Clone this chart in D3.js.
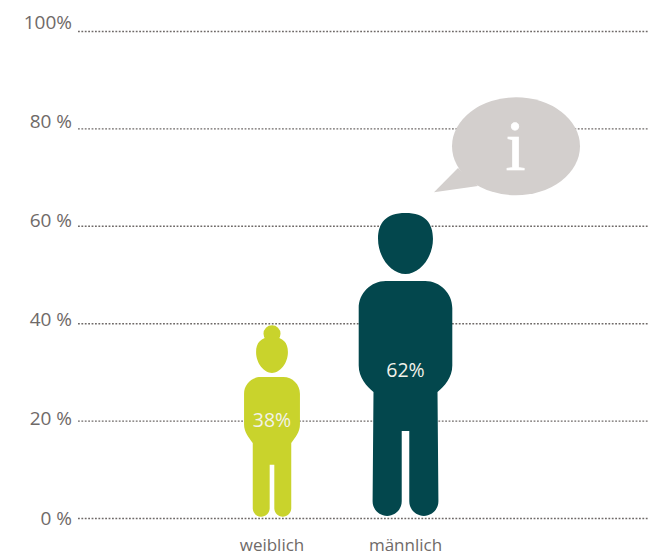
<!DOCTYPE html>
<meta charset="utf-8">
<style>
body { margin: 0; background: #fff; }
text { font-family: "Open Sans", sans-serif; }
.axis path { display: none; }
.axis line { stroke: #6f6a68; stroke-width: 1.4px; stroke-dasharray: 1.8 1.6; }
.axis text { font-size: 19px; fill: #6f6a68; }
.cat { font-size: 17px; fill: #6f6a68; text-anchor: middle; }
.val { font-size: 19.5px; fill: #f2f2ea; text-anchor: middle; }
</style>
<svg width="648" height="553"></svg>
<script src="https://d3js.org/d3.v7.min.js"></script>
<script>
var categories = ["weiblich", "männlich"];
var shares = [38, 62];
var colors = ["#c9d32c", "#03474d"];
var tickValues = [0, 20, 40, 60, 80, 100];
var tickLabels = ["0 %", "20 %", "40 %", "60 %", "80 %", "100%"];

var svg = d3.select("svg");

var y = d3.scaleLinear().domain([0, 100]).range([518, 31]);
var x = d3.scalePoint().domain(categories).range([272, 405.5]);
// the labels are spaced a bit wider than the grid lines in the original
var labelY = d3.scaleLinear().domain([0, 100]).range([524, 28]);

// grid lines + labels
var axis = svg.append("g")
    .attr("class", "axis")
    .attr("transform", "translate(78,0)")
    .call(d3.axisLeft(y)
      .tickValues(tickValues)
      .tickSize(-570)
      .tickFormat(function(d, i) { return tickLabels[i]; }));

axis.selectAll("text")
    .attr("x", -6)
    .attr("dy", 0)
    .attr("y", function(d) { return labelY(d) - y(d); })
    .attr("text-anchor", "end");

// speech bubble
var bubble = svg.append("g");
bubble.append("ellipse")
    .attr("cx", 516).attr("cy", 146.3)
    .attr("rx", 64).attr("ry", 49)
    .attr("fill", "#d3cfcd");
bubble.append("path")
    .attr("d", "M458,168L434,192.3L478,186Z")
    .attr("fill", "#d3cfcd");
bubble.append("text")
    .attr("x", 515.5).attr("y", 170)
    .attr("text-anchor", "middle")
    .style("font-family", "'Liberation Serif', serif")
    .style("font-size", "72px")
    .attr("fill", "#fff")
    .attr("stroke", "#fff")
    .attr("stroke-width", 0.7)
    .text("i");

// silhouette, sizes are fractions of the figure height (value on the y scale)
function figure(cx, k, bun) {
  var base = y(0);
  var X = function(u) { return cx + u * k; };
  var Y = function(f) { return base - f * k; };
  var p = d3.path();

  // head
  var top = bun ? 0.978 : 1.01, bot = bun ? 0.784 : 0.808, hw = bun ? 0.086 : 0.091;
  var V = function(v) { return Y(top - v * (top - bot)); };
  var U = function(u) { return X(u * hw); };
  p.moveTo(U(0), V(0));
  p.bezierCurveTo(U(0.72), V(0), U(1), V(0.17), U(1), V(0.42));
  p.bezierCurveTo(U(1), V(0.74), U(0.5), V(1), U(0), V(1));
  p.bezierCurveTo(U(-0.5), V(1), U(-1), V(0.74), U(-1), V(0.42));
  p.bezierCurveTo(U(-1), V(0.17), U(-0.72), V(0), U(0), V(0));
  p.closePath();

  // bun on top of the head
  if (bun) {
    p.moveTo(X(0.046), Y(0.995));
    p.arc(X(0), Y(0.995), 0.046 * k, 0, 2 * Math.PI);
    p.closePath();
  }

  // body and legs
  var bt = bun ? 0.762 : 0.785, bw = bun ? 0.151 : 0.155;
  var legTop = bun ? 0.405 : 0.417, legW = bun ? 0.104 : 0.106, footW = bun ? 0.104 : 0.109;
  var gap = 0.0125, gapTop = 0.288, footBot = 0.007;
  var footMid = (footW + gap) / 2, footR = (footW - gap) / 2;
  var footY = footBot + footR, c = footR * 0.55, r = 0.09;
  p.moveTo(X(-bw + r), Y(bt));
  p.lineTo(X(bw - r), Y(bt));
  p.bezierCurveTo(X(bw - r * 0.45), Y(bt), X(bw), Y(bt - r * 0.45), X(bw), Y(bt - r));
  p.lineTo(X(bw), Y(0.505));
  p.bezierCurveTo(X(bw), Y(0.465), X(legW + 0.022), Y(0.435), X(legW), Y(legTop));
  p.lineTo(X(footW), Y(footY));
  p.bezierCurveTo(X(footW), Y(footY - c), X(footMid + c), Y(footBot), X(footMid), Y(footBot));
  p.bezierCurveTo(X(footMid - c), Y(footBot), X(gap), Y(footY - c), X(gap), Y(footY));
  p.lineTo(X(gap), Y(gapTop));
  p.lineTo(X(-gap), Y(gapTop));
  p.lineTo(X(-gap), Y(footY));
  p.bezierCurveTo(X(-gap), Y(footY - c), X(-footMid + c), Y(footBot), X(-footMid), Y(footBot));
  p.bezierCurveTo(X(-footMid - c), Y(footBot), X(-footW), Y(footY - c), X(-footW), Y(footY));
  p.lineTo(X(-legW), Y(legTop));
  p.bezierCurveTo(X(-legW - 0.022), Y(0.435), X(-bw), Y(0.465), X(-bw), Y(0.505));
  p.lineTo(X(-bw), Y(bt - r));
  p.bezierCurveTo(X(-bw), Y(bt - r * 0.45), X(-bw + r * 0.45), Y(bt), X(-bw + r), Y(bt));
  p.closePath();
  return p.toString();
}

var people = svg.selectAll(".person")
    .data(categories)
  .enter().append("g")
    .attr("class", "person");

people.append("path")
    .attr("d", function(d, i) { return figure(x(d), y(0) - y(shares[i]), i == 0); })
    .attr("fill", function(d, i) { return colors[i]; });

people.append("text")
    .attr("class", "val")
    .attr("x", function(d) { return x(d); })
    .attr("y", function(d, i) { return y(0) - (y(0) - y(shares[i])) * (i == 0 ? 0.492 : 0.467); })
    .text(function(d, i) { return shares[i] + "%"; });

people.append("text")
    .attr("class", "cat")
    .attr("x", function(d) { return x(d); })
    .attr("y", 551)
    .text(function(d) { return d; });
</script>
